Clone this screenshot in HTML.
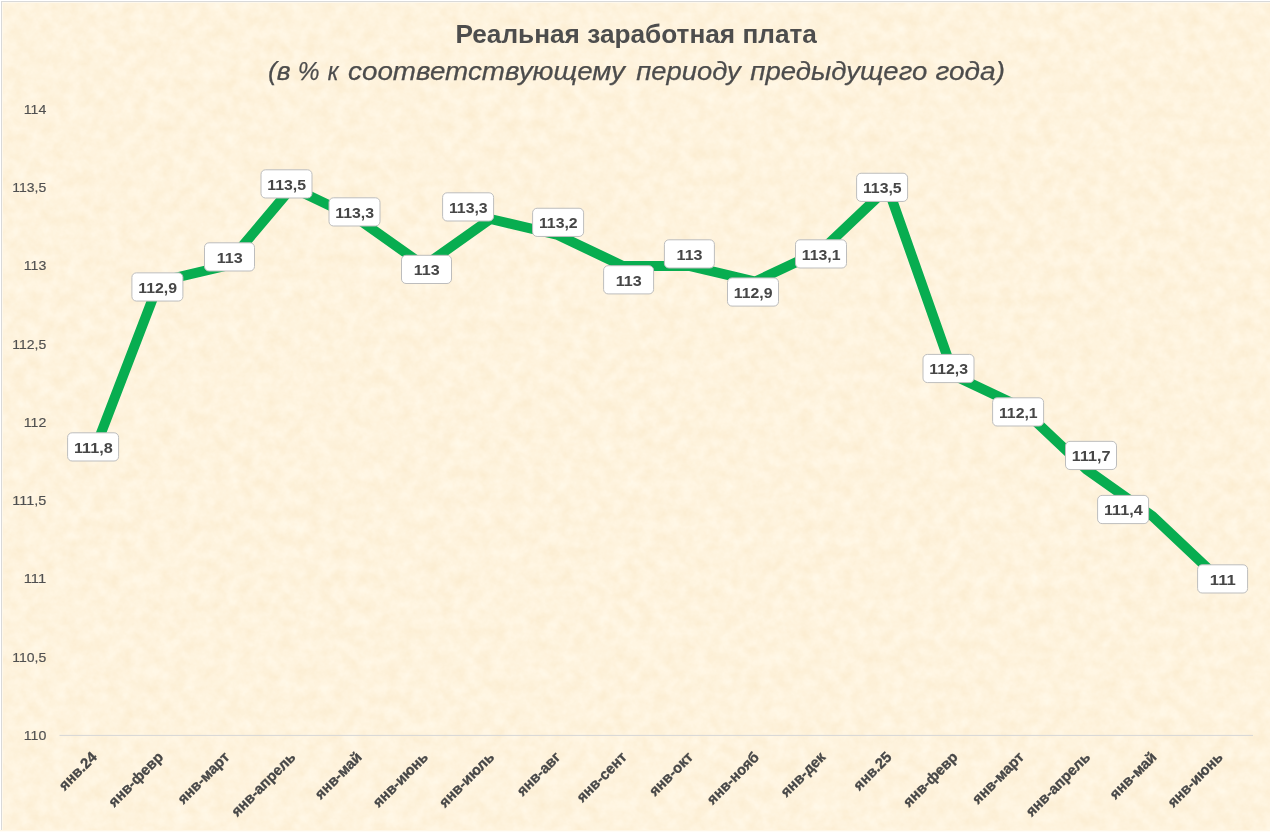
<!DOCTYPE html>
<html lang="ru"><head><meta charset="utf-8"><title>Реальная заработная плата</title>
<style>
html,body{margin:0;padding:0;background:#fdf2dc;}
body{width:1270px;height:832px;overflow:hidden;position:relative;font-family:"Liberation Sans",sans-serif;}
svg{display:block;position:absolute;left:0;top:0;}
text{font-family:"Liberation Sans",sans-serif;}
.ax{font-size:12.8px;fill:#505050;stroke:#505050;stroke-width:0.15px;text-anchor:end;}
.cat{font-size:14.7px;font-weight:700;fill:#474747;stroke:#474747;stroke-width:0.35px;text-anchor:end;}
.dl{font-size:15.4px;font-weight:700;fill:#464646;text-anchor:middle;}
.box{fill:#ffffff;stroke:#bdbdbd;stroke-width:1;}
.sub{font-size:26.6px;font-style:italic;fill:#4c4c4c;stroke:#4c4c4c;stroke-width:0.25px;}
</style></head><body>
<svg width="1270" height="832" viewBox="0 0 1270 832">
<defs><filter id="pt" x="0" y="0" width="100%" height="100%" color-interpolation-filters="sRGB">
<feTurbulence type="fractalNoise" baseFrequency="0.075" numOctaves="4" seed="7" result="n"/>
<feColorMatrix in="n" type="matrix" values="0.022 0 0 0 0.985  0.055 0 0 0 0.925  0.11 0 0 0 0.812  0 0 0 0 1"/>
</filter></defs>
<rect x="0" y="0" width="1270" height="832" fill="#fdf2dc"/>
<rect x="0" y="0" width="1270" height="832" fill="#fdf2dc" filter="url(#pt)"/>

<rect x="0" y="0" width="1270" height="1" fill="#ffffff"/><rect x="0" y="0" width="1" height="832" fill="#ffffff"/>
<rect x="2" y="2" width="1268" height="1" fill="#fef8ec"/><rect x="2" y="2" width="1" height="829" fill="#fef8ec"/>
<rect x="1" y="1" width="1269" height="1" fill="#d9d9d9"/><rect x="1" y="1" width="1" height="830" fill="#d9d9d9"/>
<rect x="0" y="830" width="1270" height="1" fill="#fef6e6"/><rect x="0" y="831" width="1270" height="1" fill="#fffdf8"/>
<text x="636.2" y="42.5" text-anchor="middle" font-size="25.0" font-weight="bold" fill="#4d4d4d" textLength="361.5" lengthAdjust="spacingAndGlyphs">Реальная заработная плата</text>
<text class="sub" y="80.2"><tspan x="267.90" textLength="22.66" lengthAdjust="spacingAndGlyphs">(в</tspan> <tspan x="297.82" textLength="21.80" lengthAdjust="spacingAndGlyphs">%</tspan> <tspan x="327.77" textLength="10.80" lengthAdjust="spacingAndGlyphs">к</tspan> <tspan x="348.00" textLength="277.00" lengthAdjust="spacingAndGlyphs">соответствующему</tspan> <tspan x="636.25" textLength="104.51" lengthAdjust="spacingAndGlyphs">периоду</tspan> <tspan x="750.25" textLength="177.01" lengthAdjust="spacingAndGlyphs">предыдущего</tspan> <tspan x="935.48" textLength="69.56" lengthAdjust="spacingAndGlyphs">года)</tspan></text>
<rect x="59.5" y="734.9" width="1193.5" height="1" fill="#d6d6d6"/>
<text class="ax" x="46.3" y="739.9" textLength="22.6" lengthAdjust="spacingAndGlyphs">110</text>
<text class="ax" x="46.3" y="661.7" textLength="34.0" lengthAdjust="spacingAndGlyphs">110,5</text>
<text class="ax" x="46.3" y="583.4" textLength="22.6" lengthAdjust="spacingAndGlyphs">111</text>
<text class="ax" x="46.3" y="505.2" textLength="34.0" lengthAdjust="spacingAndGlyphs">111,5</text>
<text class="ax" x="46.3" y="426.9" textLength="22.6" lengthAdjust="spacingAndGlyphs">112</text>
<text class="ax" x="46.3" y="348.7" textLength="34.0" lengthAdjust="spacingAndGlyphs">112,5</text>
<text class="ax" x="46.3" y="270.4" textLength="22.6" lengthAdjust="spacingAndGlyphs">113</text>
<text class="ax" x="46.3" y="192.2" textLength="34.0" lengthAdjust="spacingAndGlyphs">113,5</text>
<text class="ax" x="46.3" y="113.9" textLength="22.6" lengthAdjust="spacingAndGlyphs">114</text>
<polyline fill="none" stroke="#08ad50" stroke-width="10" stroke-linejoin="round" stroke-linecap="round" points="93.1,453.7 159.3,281.5 225.6,265.9 291.8,187.6 358.0,219.0 424.2,265.9 490.4,219.0 556.7,234.6 622.9,265.9 689.1,265.9 755.3,281.5 821.6,250.3 887.8,187.6 954.0,375.5 1020.2,406.8 1086.4,469.3 1152.7,516.3 1218.9,578.9"/>
<rect class="box" x="67.60" y="432.80" width="51.0" height="28.2" rx="4.5" ry="4.5"/>
<text class="dl" x="93.30" y="452.80" textLength="38.8" lengthAdjust="spacingAndGlyphs">111,8</text>
<rect class="box" x="131.90" y="272.85" width="51.0" height="28.2" rx="4.5" ry="4.5"/>
<text class="dl" x="157.60" y="292.85" textLength="38.8" lengthAdjust="spacingAndGlyphs">112,9</text>
<rect class="box" x="204.50" y="242.80" width="50.0" height="28.2" rx="4.5" ry="4.5"/>
<text class="dl" x="229.70" y="262.80" textLength="26.0" lengthAdjust="spacingAndGlyphs">113</text>
<rect class="box" x="261.00" y="169.80" width="51.0" height="28.2" rx="4.5" ry="4.5"/>
<text class="dl" x="286.70" y="189.80" textLength="38.8" lengthAdjust="spacingAndGlyphs">113,5</text>
<rect class="box" x="329.00" y="197.80" width="51.0" height="28.2" rx="4.5" ry="4.5"/>
<text class="dl" x="354.70" y="217.80" textLength="38.8" lengthAdjust="spacingAndGlyphs">113,3</text>
<rect class="box" x="401.50" y="255.30" width="50.0" height="28.2" rx="4.5" ry="4.5"/>
<text class="dl" x="426.70" y="275.30" textLength="26.0" lengthAdjust="spacingAndGlyphs">113</text>
<rect class="box" x="442.60" y="192.80" width="51.0" height="28.2" rx="4.5" ry="4.5"/>
<text class="dl" x="468.30" y="212.80" textLength="38.8" lengthAdjust="spacingAndGlyphs">113,3</text>
<rect class="box" x="532.60" y="208.25" width="51.0" height="28.2" rx="4.5" ry="4.5"/>
<text class="dl" x="558.30" y="228.25" textLength="38.8" lengthAdjust="spacingAndGlyphs">113,2</text>
<rect class="box" x="603.60" y="265.70" width="50.0" height="28.2" rx="4.5" ry="4.5"/>
<text class="dl" x="628.80" y="285.70" textLength="26.0" lengthAdjust="spacingAndGlyphs">113</text>
<rect class="box" x="664.40" y="239.80" width="50.0" height="28.2" rx="4.5" ry="4.5"/>
<text class="dl" x="689.60" y="259.80" textLength="26.0" lengthAdjust="spacingAndGlyphs">113</text>
<rect class="box" x="727.50" y="277.90" width="51.0" height="28.2" rx="4.5" ry="4.5"/>
<text class="dl" x="753.20" y="297.90" textLength="38.8" lengthAdjust="spacingAndGlyphs">112,9</text>
<rect class="box" x="795.50" y="239.80" width="51.0" height="28.2" rx="4.5" ry="4.5"/>
<text class="dl" x="821.20" y="259.80" textLength="38.8" lengthAdjust="spacingAndGlyphs">113,1</text>
<rect class="box" x="856.60" y="173.25" width="51.0" height="28.2" rx="4.5" ry="4.5"/>
<text class="dl" x="882.30" y="193.25" textLength="38.8" lengthAdjust="spacingAndGlyphs">113,5</text>
<rect class="box" x="923.00" y="354.40" width="51.0" height="28.2" rx="4.5" ry="4.5"/>
<text class="dl" x="948.70" y="374.40" textLength="38.8" lengthAdjust="spacingAndGlyphs">112,3</text>
<rect class="box" x="992.60" y="397.80" width="51.0" height="28.2" rx="4.5" ry="4.5"/>
<text class="dl" x="1018.30" y="417.80" textLength="38.8" lengthAdjust="spacingAndGlyphs">112,1</text>
<rect class="box" x="1065.50" y="441.35" width="51.0" height="28.2" rx="4.5" ry="4.5"/>
<text class="dl" x="1091.20" y="461.35" textLength="38.8" lengthAdjust="spacingAndGlyphs">111,7</text>
<rect class="box" x="1097.60" y="495.40" width="51.0" height="28.2" rx="4.5" ry="4.5"/>
<text class="dl" x="1123.30" y="515.40" textLength="38.8" lengthAdjust="spacingAndGlyphs">111,4</text>
<rect class="box" x="1197.60" y="564.80" width="50.0" height="28.2" rx="4.5" ry="4.5"/>
<text class="dl" x="1222.80" y="584.80" textLength="26.0" lengthAdjust="spacingAndGlyphs">111</text>
<text class="cat" transform="translate(97.8,758.0) rotate(-45)">янв.24</text>
<text class="cat" transform="translate(164.0,758.0) rotate(-45)">янв-февр</text>
<text class="cat" transform="translate(230.3,758.0) rotate(-45)">янв-март</text>
<text class="cat" transform="translate(296.5,758.0) rotate(-45)">янв-апрель</text>
<text class="cat" transform="translate(362.7,758.0) rotate(-45)">янв-май</text>
<text class="cat" transform="translate(428.9,758.0) rotate(-45)">янв-июнь</text>
<text class="cat" transform="translate(495.1,758.0) rotate(-45)">янв-июль</text>
<text class="cat" transform="translate(561.4,758.0) rotate(-45)">янв-авг</text>
<text class="cat" transform="translate(627.6,758.0) rotate(-45)">янв-сент</text>
<text class="cat" transform="translate(693.8,758.0) rotate(-45)">янв-окт</text>
<text class="cat" transform="translate(760.0,758.0) rotate(-45)">янв-нояб</text>
<text class="cat" transform="translate(826.3,758.0) rotate(-45)">янв-дек</text>
<text class="cat" transform="translate(892.5,758.0) rotate(-45)">янв.25</text>
<text class="cat" transform="translate(958.7,758.0) rotate(-45)">янв-февр</text>
<text class="cat" transform="translate(1024.9,758.0) rotate(-45)">янв-март</text>
<text class="cat" transform="translate(1091.1,758.0) rotate(-45)">янв-апрель</text>
<text class="cat" transform="translate(1157.4,758.0) rotate(-45)">янв-май</text>
<text class="cat" transform="translate(1223.6,758.0) rotate(-45)">янв-июнь</text>
</svg></body></html>
